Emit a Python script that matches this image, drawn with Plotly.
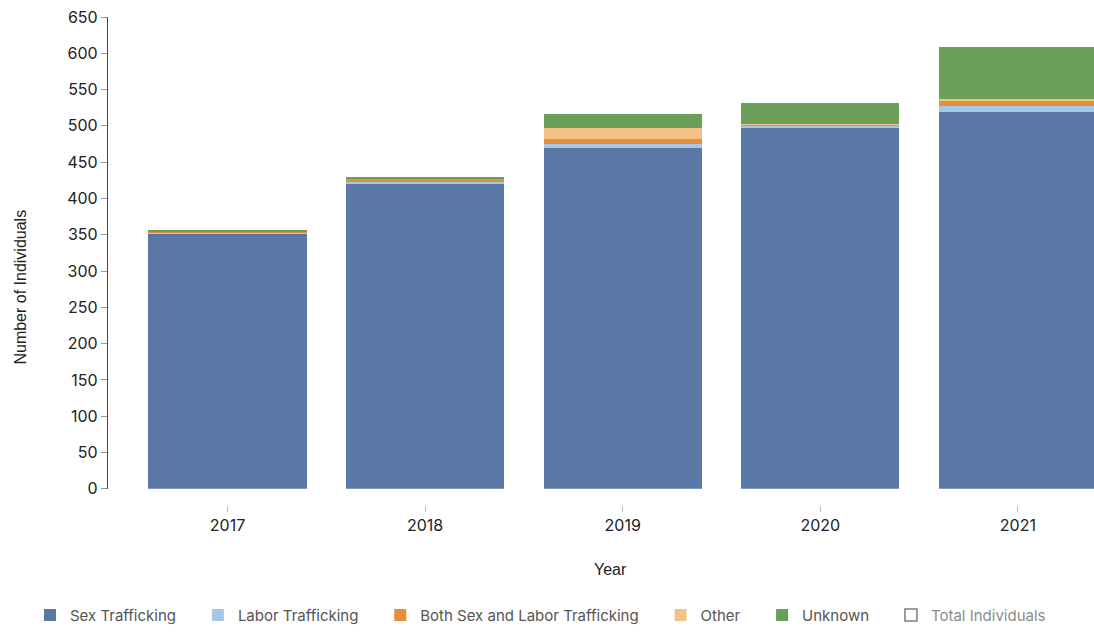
import plotly.graph_objects as go

years = ["2017", "2018", "2019", "2020", "2021"]
sex_trafficking = [352, 420, 470, 497, 519]
labor_trafficking = [1, 2, 5, 3, 9]
both_sex_labor = [2, 5, 7, 2, 7]
other = [0, 0, 15, 1, 2]
unknown = [1, 2, 19, 28, 72]
total_individuals = [s + l + b + o + u for s, l, b, o, u in
                     zip(sex_trafficking, labor_trafficking, both_sex_labor, other, unknown)]
y_ticks = list(range(0, 651, 50))

series = [
    ("Sex Trafficking", sex_trafficking, "#5A78A6"),
    ("Labor Trafficking", labor_trafficking, "#A6C8E6"),
    ("Both Sex and Labor Trafficking", both_sex_labor, "#E58E3C"),
    ("Other", other, "#F4C285"),
    ("Unknown", unknown, "#6A9F58"),
]

FONT = "Inter, Lato, sans-serif"
TITLE_FONT = "Liberation Sans, Arial, sans-serif"
pad = "\u00a0" * 4

fig = go.Figure()
for name, vals, color in series:
    fig.add_trace(go.Bar(x=years, y=vals, name=name + pad,
                         marker=dict(color=color, line=dict(width=0))))
fig.add_trace(go.Bar(x=years, y=total_individuals,
                     name='<span style="color:#111">Total Individuals</span>',
                     visible="legendonly",
                     marker=dict(color="white", line=dict(color="#000", width=1.5))))

W, H = 1094, 632
left, right, top, bottom = 108, 1094, 17, 513
zero_px = 496.5

unit = 197.6
x0 = (left - 227.5) / unit
x1 = x0 + (right - left) / unit


def py(p):
    return (bottom - p) / (bottom - top)


def px(p):
    return (p - left) / (right - left)


fig.update_layout(
    width=W, height=H,
    margin=dict(l=left, r=W - right, t=top, b=H - bottom),
    barmode="stack", bargap=0.2,
    plot_bgcolor="white", paper_bgcolor="white",
    font=dict(family=FONT, size=16, color="#222"),
    showlegend=True,
    legend=dict(orientation="h", x=px(30), xanchor="left",
                y=py(625), yanchor="middle",
                font=dict(size=15, color="#555", family=FONT), traceorder="normal"),
    xaxis=dict(range=[x0, x1], anchor="free", position=0, showline=False,
               ticks="outside", ticklen=6, tickcolor="#bbb", tickwidth=1,
               showgrid=False, tickfont=dict(size=16, color="#222")),
    yaxis=dict(range=[0, 650], domain=[(bottom - zero_px) / (bottom - top), 1],
               tickvals=y_ticks, showline=True, linecolor="#444", linewidth=1.2,
               ticks="outside", ticklen=6, tickcolor="#999", showgrid=False, zeroline=False,
               ticklabeloverflow="allow",
               tickfont=dict(size=16, color="#222")),
    annotations=[
        dict(text="Number of Individuals", xref="paper", yref="paper",
             x=px(21), y=py(292),
             textangle=-90, showarrow=False,
             font=dict(size=16, color="#222", family=TITLE_FONT),
             xanchor="center", yanchor="middle"),
        dict(text="Year", xref="paper", yref="paper",
             x=px(610), y=py(579),
             showarrow=False, font=dict(size=16, color="#222", family=TITLE_FONT),
             xanchor="center", yanchor="middle"),
    ],
)

fig.write_html("out.html", config={"displayModeBar": False},
               post_script="document.body.style.margin='0';document.body.style.overflow='hidden';")
